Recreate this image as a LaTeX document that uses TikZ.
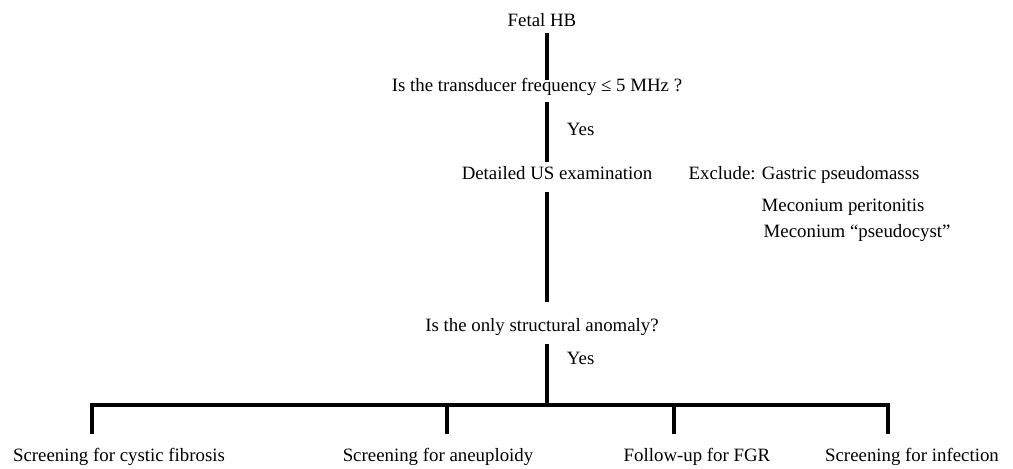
\documentclass[tikz,border=0pt]{standalone}
\usepackage{fontspec}
\setmainfont{Liberation Serif}

\begin{document}
\begin{tikzpicture}[x=0.025cm,y=-0.025cm,
        txt/.style={inner sep=1pt, text height=0.7em, text depth=0.25em,
            font=\fontsize{13.4}{16}\selectfont},
        link/.style={line width=2.4pt}]
        \useasboundingbox (0,0) rectangle (1013,468);
        \coordinate (spine) at (547,0);
        \node[txt] (fetal) at (542,23) {Fetal HB};
        \node[txt] (freq) at (537,88) {Is the transducer frequency ≤ 5 MHz ?};
        \node[txt] (detail) at (557,176) {Detailed US examination};
        \node[txt, anchor=west] (exclude) at (687,176) {Exclude: Gastric pseudomasss};
        \node[txt, anchor=west] (mecA) at (760,208) {Meconium peritonitis};
        \node[txt, anchor=west] (mecB) at (762,234) {Meconium “pseudocyst”};
        \node[txt] (anomaly) at (542,328) {Is the only structural anomaly?};
        \node[txt] (cystic) at (119,458) {Screening for cystic fibrosis};
        \node[txt] (aneu) at (438,458) {Screening for aneuploidy};
        \node[txt] (fgr) at (697,458) {Follow-up for FGR};
        \node[txt] (infect) at (912,458) {Screening for infection};
        % main line
        \draw[link, shorten <=0.05cm] (fetal.south -| spine) -- (freq.north -| spine);
        \draw[link, shorten <=0.15cm, shorten >=0.15cm] (freq.south -| spine) -- (detail.north -| spine)
            node[txt, midway, right=12pt] (yesA) {Yes};
        \draw[link, shorten <=0.2cm, shorten >=0.45cm] (detail.south -| spine) -- (anomaly.north -| spine);
        \coordinate (bar) at (547,405);
        \draw[link, shorten <=0.2cm] (anomaly.south -| spine) -- (bar)
            node[txt, pos=0.36, right=12pt] (yesB) {Yes};
        % branches
        \draw[link] (cystic.north -| 92,0) ++(0,-16) |- (bar) -| ([yshift=0.4cm]infect.north -| 888,0);
        \foreach \n/\x in {aneu/447, fgr/674}
            \draw[link, shorten >=0.4cm] (\x,405) -- (\n.north -| \x,0);
\end{tikzpicture}
\end{document}
